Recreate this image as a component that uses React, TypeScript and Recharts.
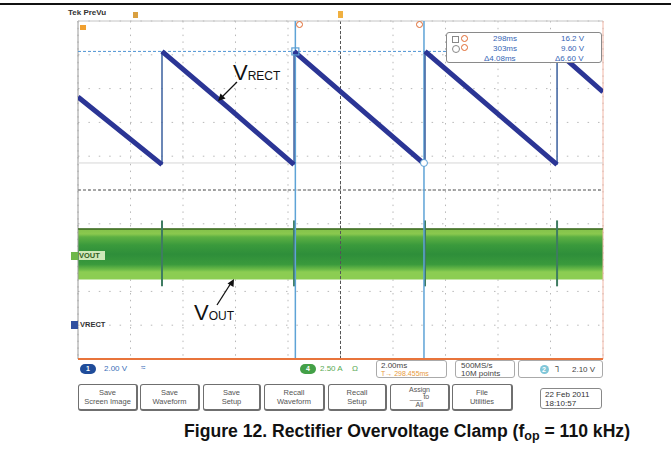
import React from "react"
import {
  ComposedChart,
  Line,
  Area,
  XAxis,
  YAxis,
  CartesianGrid,
  ReferenceLine,
  ReferenceDot,
} from "recharts"

// scope screen: 2.00 ms/div (time in ms), ch1 2.00 V/div (volts)
const timeTicks = [-10, -8, -6, -4, -2, 0, 2, 4, 6, 8, 10]
const voltTicks = [-2, 0, 2, 4, 6, 8, 10, 12, 14, 16, 18]

// VRECT discharge ramps, null breaks the trace at each fast edge
const vrectTime = [-10, -6.8, -6.8, -6.8, -4.3, -1.77, -1.77, -1.77, 3.22, 3.22, 3.22, 8.25, 8.25, 8.25, 10]
const vrectVolts = [13.5, 9.5, null, 16.2, 12.9, 9.5, null, 16.2, 9.5, null, 16.2, 9.5, null, 16.2, 13.8]

// fast rising edges of VRECT
const edgeTime = [-6.8, -1.77, 3.22, 8.25]
const edgeLow = 9.5
const edgeHigh = 16.2

// VOUT ripple band (ch4) and its spikes at every edge
const voutTime = [-10, 10]
const voutLow = [2.7, 2.7]
const voutHigh = [5.7, 5.7]
const spikeLow = 2.3
const spikeHigh = 6.2

// cursors
const cursorTime = [-1.72, 3.18]
const cursorVolts = [16.2, 9.6]

const vrectData = vrectTime.map((t, i) => ({ t, v: vrectVolts[i] }))
const voutData = voutTime.map((t, i) => ({ t, band: [voutLow[i], voutHigh[i]] }))

const scopeFont = "'Liberation Sans', Arial, sans-serif"

function Txt({ x, y, size = 8, color = "#444", bold = false, children }: any) {
  return (
    <div
      style={{
        position: "absolute",
        left: x,
        top: y,
        fontSize: size,
        color,
        fontWeight: bold ? "bold" : "normal",
        fontFamily: scopeFont,
        whiteSpace: "nowrap",
        lineHeight: 1,
      }}
    >
      {children}
    </div>
  )
}

function Box({ x, y, w, h, children, style }: any) {
  return (
    <div
      style={{
        position: "absolute",
        left: x,
        top: y,
        width: w,
        height: h,
        boxSizing: "border-box",
        border: "1px solid #9a9a9a",
        borderRadius: 3,
        background: "#fff",
        ...style,
      }}
    >
      {children}
    </div>
  )
}

function Button({ x, w, lines }: any) {
  const tight = lines.length > 2
  return (
    <Box
      x={x}
      y={384}
      w={w}
      h={27}
      style={{
        border: "1px solid #6f6f6f",
        borderRightWidth: 2,
        borderBottomWidth: 2,
        display: "flex",
        flexDirection: "column",
        justifyContent: "center",
        alignItems: "center",
        fontFamily: scopeFont,
        fontSize: tight ? 7 : 7.5,
        lineHeight: tight ? "7.5px" : "9px",
        color: "#555",
      }}
    >
      {lines.map((l: string, i: number) => (
        <div key={i}>{l}</div>
      ))}
    </Box>
  )
}

function Pill({ x, y, bg, label }: any) {
  return (
    <div
      style={{
        position: "absolute",
        left: x,
        top: y,
        width: 16,
        height: 10,
        borderRadius: 5,
        background: bg,
        color: "#fff",
        fontSize: 7,
        fontFamily: scopeFont,
        textAlign: "center",
        lineHeight: "10px",
        fontWeight: "bold",
      }}
    >
      {label}
    </div>
  )
}

const squareShape = (p: any) => (
  <rect x={p.cx - 3.5} y={p.cy - 3.5} width={7} height={7} fill="none" stroke="#5b9fd4" strokeWidth={1.2} />
)

export default function App() {
  return (
    <div style={{ position: "absolute", left: 0, top: 0, width: 671, height: 456, background: "#fff", overflow: "hidden" }}>
      {/* top rule */}
      <div style={{ position: "absolute", left: 0, top: 3, width: 671, height: 2, background: "#111" }} />

      <ComposedChart width={671} height={456} margin={{ top: 21, right: 68, bottom: 97, left: 78 }}>
        <defs>
          <linearGradient id="voutFill" x1="0" y1="0" x2="0" y2="1">
            <stop offset="0" stopColor="#3f6a25" />
            <stop offset="0.03" stopColor="#86c44c" />
            <stop offset="0.1" stopColor="#8ac84e" />
            <stop offset="0.16" stopColor="#5db043" />
            <stop offset="0.32" stopColor="#3a9a3c" />
            <stop offset="0.5" stopColor="#2e8e3a" />
            <stop offset="0.7" stopColor="#3a9a3c" />
            <stop offset="0.8" stopColor="#6cbb48" />
            <stop offset="0.85" stopColor="#8ccd52" />
            <stop offset="1" stopColor="#8ccd52" />
          </linearGradient>
        </defs>
        <XAxis type="number" dataKey="t" domain={[-10, 10]} ticks={timeTicks} hide allowDataOverflow />
        <YAxis type="number" domain={[-2, 18]} ticks={voltTicks} hide allowDataOverflow />
        <CartesianGrid vertical={false} stroke="#b8b8b8" strokeDasharray="1.5 8.9" />
        <CartesianGrid horizontal={false} stroke="#b8b8b8" strokeDasharray="1.5 5.3" />

        {/* centre graticule */}
        <ReferenceLine x={0} stroke="#555" strokeDasharray="3 2" />
        <ReferenceLine y={8} stroke="#555" strokeDasharray="3 2" />

        {/* screen borders */}
        <ReferenceLine x={-10} stroke="#9a9a9a" />
        <ReferenceLine y={18} stroke="#c4c4c4" />
        <ReferenceLine x={10} stroke="#f2b6a6" />

        {/* horizontal cursors */}
        <ReferenceLine y={cursorVolts[1]} stroke="#d6d6d6" />
        <ReferenceLine
          segment={[
            { x: -10, y: cursorVolts[0] },
            { x: 4.1, y: cursorVolts[0] },
          ]}
          stroke="#4f94d4"
          strokeDasharray="3 2"
        />

        {/* VOUT */}
        <Area
          data={voutData}
          dataKey="band"
          type="linear"
          stroke="none"
          fill="url(#voutFill)"
          fillOpacity={1}
          isAnimationActive={false}
        />
        <ReferenceLine y={voutHigh[0]} stroke="#3d6b22" strokeWidth={1.2} />
        {edgeTime.map((t) => (
          <ReferenceLine
            key={"s" + t}
            segment={[
              { x: t, y: spikeLow },
              { x: t, y: spikeHigh },
            ]}
            stroke="#3f7c62"
            strokeWidth={2}
          />
        ))}

        {/* vertical cursors */}
        {cursorTime.map((t) => (
          <ReferenceLine key={"c" + t} x={t} stroke="#5ea3d6" strokeWidth={1.5} />
        ))}

        {/* VRECT */}
        {edgeTime.map((t) => (
          <ReferenceLine
            key={"e" + t}
            segment={[
              { x: t, y: edgeLow },
              { x: t, y: edgeHigh },
            ]}
            stroke="#3a5f9e"
            strokeWidth={1.5}
          />
        ))}
        <Line
          data={vrectData}
          dataKey="v"
          type="linear"
          stroke="#2b3595"
          strokeWidth={5}
          dot={false}
          connectNulls={false}
          isAnimationActive={false}
        />
        <ReferenceDot x={cursorTime[0]} y={cursorVolts[0]} r={3.5} shape={squareShape} />
        <ReferenceDot x={cursorTime[1]} y={cursorVolts[1]} r={3.5} fill="#fff" stroke="#5b9fd4" />
      </ComposedChart>

      {/* top bar */}
      <Txt x={68} y={9} size={8} color="#333" bold>
        Tek PreVu
      </Txt>
      <div style={{ position: "absolute", left: 133, top: 12, width: 5, height: 6, background: "#d9a040" }} />
      <div style={{ position: "absolute", left: 338, top: 11, width: 5, height: 7, background: "#f0b040" }} />
      <div style={{ position: "absolute", left: 80, top: 25, width: 6, height: 5, background: "#f0a030" }} />
      <div style={{ position: "absolute", left: 296, top: 21, width: 7, height: 7, borderRadius: 4, border: "1.5px solid #e06a30", boxSizing: "border-box" }} />
      <div style={{ position: "absolute", left: 416, top: 21, width: 7, height: 7, borderRadius: 4, border: "1.5px solid #e06a30", boxSizing: "border-box" }} />

      {/* cursor readout */}
      <Box x={446} y={32} w={156} h={31} style={{ border: "1px solid #8a8a8a" }}>
        <div style={{ position: "absolute", left: 5, top: 3, width: 5, height: 5, border: "1px solid #888" }} />
        <div style={{ position: "absolute", left: 5, top: 12, width: 6, height: 6, borderRadius: 4, border: "1px solid #888" }} />
        <div style={{ position: "absolute", left: 14, top: 2, width: 7, height: 7, borderRadius: 4, border: "1.5px solid #e06a30", boxSizing: "border-box" }} />
        <div style={{ position: "absolute", left: 14, top: 11, width: 7, height: 7, borderRadius: 4, border: "1.5px solid #e06a30", boxSizing: "border-box" }} />
        <Txt x={46} y={2} color="#3565b5">298ms</Txt>
        <Txt x={46} y={12} color="#3565b5">303ms</Txt>
        <Txt x={37} y={22} color="#3565b5">Δ4.08ms</Txt>
        <Txt x={114} y={2} color="#3565b5">16.2 V</Txt>
        <Txt x={114} y={12} color="#3565b5">9.60 V</Txt>
        <Txt x={108} y={22} color="#3565b5">Δ6.60 V</Txt>
      </Box>

      {/* channel labels */}
      <div style={{ position: "absolute", left: 71, top: 252, width: 7, height: 8, background: "#6fb84a" }} />
      <div style={{ position: "absolute", left: 79, top: 251, padding: "0 1px", background: "#cfe8b8" }}>
        <Txt x={0} y={1} size={7.5} color="#2f5d20" bold>
          VOUT
        </Txt>
        <div style={{ width: 24, height: 9 }} />
      </div>
      <div style={{ position: "absolute", left: 71, top: 321, width: 7, height: 8, background: "#3050a0" }} />
      <Txt x={80} y={321} size={7.5} color="#333" bold>
        VRECT
      </Txt>

      {/* annotations */}
      <svg width={671} height={456} style={{ position: "absolute", left: 0, top: 0, pointerEvents: "none" }}>
        <text x={233} y={80} fontFamily="'Liberation Sans', Arial, sans-serif" fontSize={22} fill="#111">
          V<tspan fontSize={12}>RECT</tspan>
        </text>
        <line x1={237} y1={82} x2={222} y2={97} stroke="#111" strokeWidth={1.3} />
        <polygon points="218,101 220.5,93.5 225.5,98.5" fill="#111" />
        <text x={194} y={320} fontFamily="'Liberation Sans', Arial, sans-serif" fontSize={22} fill="#111">
          V<tspan fontSize={12}>OUT</tspan>
        </text>
        <line x1={217} y1={305} x2={231} y2={283} stroke="#111" strokeWidth={1.3} />
        <polygon points="234,279 227.5,283.5 233.5,287" fill="#111" />
      </svg>

      {/* status bar */}
      <div style={{ position: "absolute", left: 78, top: 358, width: 525, height: 2, background: "#e8743b" }} />
      <Pill x={80} y={364} bg="#1f4c9a" label="1" />
      <Txt x={104} y={365} color="#3a6fb8">2.00 V</Txt>
      <Txt x={141} y={364} color="#3a6fb8">≈</Txt>
      <Pill x={300} y={364} bg="#43a047" label="4" />
      <Txt x={320} y={365} color="#5aaa55">2.50 A</Txt>
      <Txt x={352} y={365} color="#5aaa55">Ω</Txt>
      <Box x={376} y={360} w={71} h={18} style={{ borderColor: "#aaa" }}>
        <Txt x={4} y={1} color="#444">2.00ms</Txt>
        <Txt x={4} y={9} size={7} color="#e89a3c">T→ 298.455ms</Txt>
      </Box>
      <Box x={455} y={360} w={60} h={18} style={{ borderColor: "#aaa" }}>
        <Txt x={5} y={1} color="#444">500MS/s</Txt>
        <Txt x={5} y={9} color="#444">10M points</Txt>
      </Box>
      <Box x={518} y={360} w={85} h={18} style={{ borderColor: "#aaa" }}>
        <div style={{ position: "absolute", left: 21, top: 4, width: 9, height: 9, borderRadius: 5, background: "#7fc6d8" }} />
        <Txt x={23} y={5} size={7} color="#fff" bold>2</Txt>
        <Txt x={36} y={5} color="#444">⅂</Txt>
        <Txt x={53} y={5} color="#444">2.10 V</Txt>
      </Box>

      {/* soft menu */}
      <Button x={78} w={60} lines={["Save", "Screen Image"]} />
      <Button x={140} w={60} lines={["Save", "Waveform"]} />
      <Button x={203} w={58} lines={["Save", "Setup"]} />
      <Button x={264} w={61} lines={["Recall", "Waveform"]} />
      <Button x={328} w={59} lines={["Recall", "Setup"]} />
      <Button x={390} w={60} lines={["Assign", "___ to", "All"]} />
      <Button x={452} w={61} lines={["File", "Utilities"]} />
      <Box x={540} y={388} w={62} h={21} style={{ borderColor: "#888" }}>
        <Txt x={4} y={2} size={8} color="#333">22 Feb 2011</Txt>
        <Txt x={4} y={11} size={8} color="#333">18:10:57</Txt>
      </Box>

      {/* caption */}
      <div
        style={{
          position: "absolute",
          left: 184,
          top: 423,
          fontFamily: "'Liberation Sans', Arial, sans-serif",
          fontWeight: "bold",
          fontSize: 17.6,
          color: "#111",
          whiteSpace: "nowrap",
          lineHeight: 1,
        }}
      >
        Figure 12. Rectifier Overvoltage Clamp (f<sub style={{ fontSize: 12.5, verticalAlign: -3 }}>op</sub> = 110 kHz)
      </div>
    </div>
  )
}
